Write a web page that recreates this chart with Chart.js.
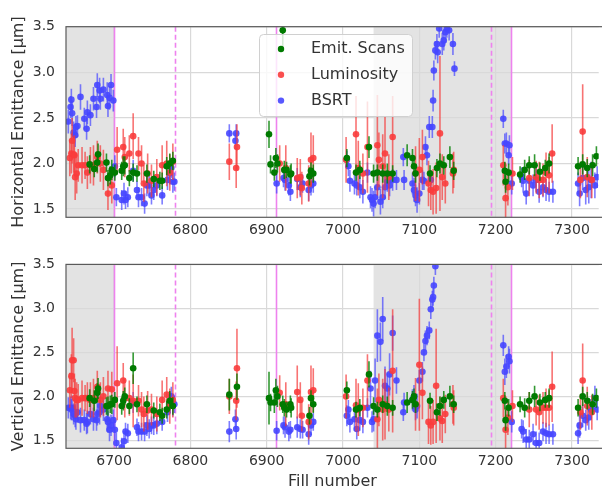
<!DOCTYPE html>
<html>
<head>
<meta charset="utf-8">
<script src="https://cdn.jsdelivr.net/npm/chart.js@4.4.1/dist/chart.umd.min.js"></script>
<style>
  html, body { margin: 0; padding: 0; background: #fff; }
  #wrap { position: relative; width: 602px; height: 491px; overflow: hidden; }
  canvas { position: absolute; left: 0; }
  #hChart { top: 0; }
  #vChart { top: 245px; }
</style>
</head>
<body>
<div id="wrap">
  <canvas id="hChart" width="602" height="245"></canvas>
  <canvas id="vChart" width="602" height="246"></canvas>
</div>
<script>
// axes
const xTicks = [6700, 6800, 6900, 7000, 7100, 7200, 7300];
const yTicks = [1.5, 2.0, 2.5, 3.0, 3.5];

// machine periods (grey) and setting changes (violet)
const shadedRuns = [[6600, 6700], [7040, 7220]];
const solidMarks = [6700, 6912, 7220];
const dashedMarks = [6780, 7194];

// BSRT
const bsrtFills = [6640, 6643, 6644, 6645, 6647, 6649, 6650, 6652, 6656, 6661, 6664, 6665, 6669, 6673, 6677, 6678, 6681, 6682, 6686, 6691, 6692, 6694, 6696, 6699,
  6701, 6703, 6710, 6713, 6715, 6718, 6725, 6730, 6732, 6736, 6740, 6743, 6746, 6749, 6752, 6756, 6763, 6770, 6773, 6775, 6777, 6779,
  6851, 6859, 6860,
  6913, 6922, 6924, 6929, 6931, 6940, 6944, 6947, 6955, 6958, 6961,
  7005, 7007, 7009, 7015, 7018, 7022, 7026, 7032, 7036, 7038, 7040, 7042, 7045, 7049, 7052, 7055, 7058, 7061, 7065, 7070,
  7079, 7080, 7091, 7093, 7095, 7097, 7100, 7104, 7106, 7108, 7110, 7113, 7115, 7117, 7118, 7119, 7121, 7123, 7124, 7126,
  7130, 7132, 7134, 7136, 7139, 7144, 7146,
  7210, 7212, 7214, 7217, 7218, 7221, 7234, 7236, 7240, 7244, 7249, 7253, 7257, 7262, 7266, 7270, 7275,
  7308, 7310, 7314, 7318, 7322, 7325, 7330, 7333];
const bsrtH = [2.46, 2.62, 2.70, 2.55, 2.34, 2.31, 2.40, 2.41, 2.73, 2.49, 2.38, 2.56, 2.53, 2.71, 2.62, 2.86, 2.80, 2.71, 2.81, 2.75, 2.63, 2.72, 2.86, 2.69,
  1.97, 1.63, 1.60, 1.67, 1.60, 1.63, 1.92, 1.71, 1.63, 1.63, 1.56, 1.76, 1.76, 1.65, 1.71, 1.76, 1.65, 1.82, 1.89, 1.95, 1.80, 1.80,
  2.33, 2.25, 2.33,
  1.78, 1.84, 1.82, 1.76, 1.69, 1.83, 1.74, 1.78, 1.71, 1.76, 1.78,
  2.04, 1.97, 1.81, 1.78, 1.76, 1.74, 1.69, 1.90, 1.63, 1.60, 1.56, 1.63, 1.74, 1.58, 1.63, 1.74, 1.80, 1.76, 1.82, 1.82,
  2.07, 1.82, 1.78, 1.71, 1.65, 1.60, 1.67, 1.82, 1.81, 2.18, 2.09, 2.40, 1.82, 2.40, 2.69, 3.02, 3.24, 3.31, 3.22, 3.48,
  3.31, 3.35, 3.44, 3.48, 3.46, 3.31, 3.04,
  2.49, 2.22, 2.22, 2.09, 2.20, 1.78, 1.85, 1.81, 1.67, 1.81, 1.76, 1.82, 1.69, 1.74, 1.71, 1.69, 1.69,
  1.78, 1.67, 1.84, 1.71, 1.74, 1.82, 1.76, 1.85];
const bsrtErrH = [0.13, 0.12, 0.12, 0.14, 0.12, 0.13, 0.12, 0.12, 0.14, 0.12, 0.12, 0.13, 0.12, 0.13, 0.12, 0.13, 0.14, 0.12, 0.13, 0.14, 0.12, 0.13, 0.12, 0.12,
  0.12, 0.10, 0.11, 0.12, 0.10, 0.11, 0.12, 0.10, 0.11, 0.10, 0.11, 0.12, 0.11, 0.10, 0.11, 0.12, 0.10, 0.11, 0.12, 0.11, 0.12, 0.10,
  0.10, 0.09, 0.10,
  0.11, 0.10, 0.12, 0.11, 0.10, 0.12, 0.11, 0.10, 0.12, 0.11, 0.10,
  0.10, 0.11, 0.12, 0.12, 0.11, 0.12, 0.13, 0.11, 0.12, 0.13, 0.14, 0.12, 0.13, 0.14, 0.12, 0.13, 0.11, 0.12, 0.12, 0.11,
  0.10, 0.11, 0.12, 0.13, 0.12, 0.14, 0.12, 0.11, 0.10, 0.12, 0.11, 0.12, 0.11, 0.12, 0.12, 0.11, 0.10, 0.11, 0.12, 0.10,
  0.12, 0.11, 0.12, 0.10, 0.11, 0.12, 0.08,
  0.10, 0.11, 0.12, 0.10, 0.11, 0.12, 0.11, 0.13, 0.12, 0.11, 0.12, 0.13, 0.12, 0.11, 0.12, 0.11, 0.12,
  0.12, 0.14, 0.13, 0.16, 0.18, 0.20, 0.14, 0.12];
const bsrtV = [1.87, 1.87, 1.85, 1.87, 1.80, 1.78, 1.74, 1.82, 1.73, 1.73, 1.69, 1.71, 1.80, 1.74, 1.73, 1.80, 1.82, 1.89, 1.85, 1.74, 1.71, 1.62, 1.67, 1.73,
  1.62, 1.47, 1.42, 1.49, 1.60, 1.58, 1.93, 1.65, 1.60, 1.60, 1.60, 1.67, 1.63, 1.67, 1.67, 1.69, 1.71, 1.82, 1.93, 2.00, 1.89, 1.91,
  1.60, 1.74, 1.63,
  1.61, 1.67, 1.65, 1.60, 1.62, 1.65, 1.63, 1.62, 1.57, 1.67, 1.71,
  1.78, 1.85, 1.71, 1.74, 1.63, 1.73, 1.71, 1.87, 2.09, 1.71, 1.74, 2.18, 2.69, 2.62, 2.88, 2.12, 2.09, 2.25, 2.72, 2.18,
  1.82, 1.93, 1.96, 2.00, 1.85, 1.89, 2.18, 2.28, 2.50, 2.63, 2.69, 2.75, 2.99, 3.10, 3.13, 3.26, 3.48, 3.62, 3.70, 3.80,
  3.90, 4.00, 4.10, 4.20, 4.30, 4.40, 4.20,
  2.58, 2.28, 2.34, 2.45, 2.40, 1.71, 1.63, 1.60, 1.51, 1.51, 1.57, 1.47, 1.47, 1.60, 1.58, 1.57, 1.57,
  1.58, 1.67, 1.78, 1.73, 1.76, 1.85, 1.98, 1.85];
const bsrtErrV = [0.12, 0.13, 0.12, 0.14, 0.12, 0.13, 0.12, 0.12, 0.14, 0.12, 0.12, 0.13, 0.12, 0.13, 0.12, 0.13, 0.14, 0.12, 0.13, 0.14, 0.12, 0.13, 0.12, 0.12,
  0.12, 0.12, 0.11, 0.12, 0.10, 0.11, 0.12, 0.10, 0.11, 0.10, 0.11, 0.12, 0.11, 0.10, 0.11, 0.12, 0.10, 0.11, 0.12, 0.11, 0.12, 0.10,
  0.12, 0.11, 0.12,
  0.11, 0.10, 0.12, 0.11, 0.10, 0.12, 0.11, 0.10, 0.12, 0.11, 0.10,
  0.12, 0.11, 0.12, 0.13, 0.12, 0.12, 0.13, 0.11, 0.20, 0.12, 0.14, 0.25, 0.30, 0.22, 0.25, 0.22, 0.18, 0.24, 0.20, 0.15,
  0.10, 0.11, 0.12, 0.13, 0.12, 0.14, 0.12, 0.11, 0.10, 0.12, 0.11, 0.10, 0.11, 0.10, 0.10, 0.10, 0.10, 0.10, 0.10, 0.10,
  0.10, 0.10, 0.10, 0.10, 0.10, 0.10, 0.10,
  0.12, 0.15, 0.13, 0.12, 0.14, 0.12, 0.11, 0.13, 0.12, 0.11, 0.12, 0.13, 0.12, 0.11, 0.12, 0.11, 0.12,
  0.12, 0.14, 0.13, 0.12, 0.14, 0.12, 0.14, 0.12];

// emittance scans
const scanFills = [6668, 6674, 6678, 6679, 6690, 6692, 6695, 6697, 6701, 6710, 6712, 6714, 6720, 6725, 6730, 6743, 6752, 6760, 6763, 6769, 6773, 6777,
  6851, 6861,
  6903, 6905, 6910, 6912, 6914, 6921, 6923, 6926, 6931, 6932, 6956, 6958, 6961,
  7005, 7017, 7022, 7034, 7040, 7045, 7052, 7058, 7065, 7084, 7091, 7093, 7095, 7114, 7123, 7127, 7132, 7140, 7145,
  7212, 7213, 7217, 7232, 7238, 7244, 7251, 7258, 7265, 7270,
  7308, 7314, 7320, 7327, 7332];
const scanH = [1.99, 1.94, 2.01, 2.10, 2.01, 1.84, 1.87, 1.93, 1.90, 1.92, 1.97, 1.98, 1.84, 1.90, 1.89, 1.89, 1.83, 1.81, 1.81, 1.97, 2.00, 2.03,
  null, null,
  2.32, 1.99, 1.90, 2.06, 2.00, 3.46, 1.93, 1.93, 1.88, 1.89, 1.86, 1.92, 1.89,
  2.06, 1.90, 1.93, 2.18, 1.89, 1.90, 1.89, 1.89, 1.89, 2.09, 2.06, 1.97, 1.89, 1.89, 1.95, 2.00, 1.98, 2.07, 1.92,
  1.92, 1.80, 1.90, 1.88, 1.93, 1.98, 1.98, 1.91, 1.95, 2.00,
  1.97, 1.99, 1.95, 1.98, 2.08];
const scanErrH = [0.10, 0.09, 0.11, 0.12, 0.10, 0.09, 0.10, 0.11, 0.09, 0.10, 0.11, 0.10, 0.09, 0.10, 0.09, 0.10, 0.09, 0.10, 0.09, 0.10, 0.11, 0.10,
  0.10, 0.10,
  0.15, 0.10, 0.09, 0.11, 0.10, 0.18, 0.10, 0.09, 0.10, 0.11, 0.10, 0.09, 0.10,
  0.10, 0.09, 0.10, 0.12, 0.10, 0.09, 0.10, 0.11, 0.09, 0.12, 0.10, 0.09, 0.10, 0.09, 0.10, 0.11, 0.10, 0.12, 0.10,
  0.10, 0.12, 0.10, 0.09, 0.11, 0.10, 0.12, 0.10, 0.09, 0.11,
  0.10, 0.11, 0.10, 0.12, 0.11];
const scanV = [1.98, 1.95, 2.04, 2.09, 1.89, 1.89, 1.91, 1.91, 1.96, 1.89, 1.95, 2.00, 1.89, 2.32, 1.91, 1.91, 1.84, 1.82, 1.78, 1.85, 1.95, 1.89,
  2.02, 2.11,
  1.98, 1.93, 1.93, 2.07, 2.00, 1.91, 1.87, 1.85, 1.91, 1.87, 1.78, 1.98, 1.91,
  2.07, 1.85, 1.87, 2.25, 1.89, 1.85, 1.91, 1.89, 1.87, 1.93, 1.96, 2.00, 1.91, 1.95, 1.82, 1.89, 1.96, 2.00, 1.91,
  1.95, 1.73, 1.87, 1.91, 1.87, 1.95, 2.00, 1.93, 1.96, 1.98,
  1.87, 2.00, 1.95, 1.91, 1.98];
const scanErrV = [0.10, 0.12, 0.11, 0.12, 0.10, 0.11, 0.10, 0.11, 0.09, 0.10, 0.11, 0.10, 0.09, 0.18, 0.09, 0.10, 0.09, 0.10, 0.09, 0.10, 0.11, 0.10,
  0.18, 0.15,
  0.30, 0.10, 0.12, 0.13, 0.12, 0.10, 0.10, 0.09, 0.10, 0.11, 0.10, 0.09, 0.10,
  0.10, 0.09, 0.10, 0.15, 0.10, 0.09, 0.10, 0.11, 0.09, 0.12, 0.10, 0.09, 0.10, 0.09, 0.10, 0.11, 0.10, 0.12, 0.10,
  0.10, 0.12, 0.10, 0.09, 0.11, 0.10, 0.12, 0.10, 0.09, 0.11,
  0.10, 0.11, 0.10, 0.12, 0.11];

// luminosity
const lumiFills = [6642, 6644, 6645, 6647, 6648, 6649, 6651, 6653, 6658, 6662, 6665, 6669, 6673, 6678, 6682, 6686, 6692, 6697,
  6704, 6712, 6714, 6720, 6725, 6732, 6736, 6739, 6744, 6749, 6756, 6763, 6769, 6773, 6777,
  6851, 6860, 6861,
  6917, 6925, 6940, 6944, 6946, 6955, 6958, 6961,
  7004, 7017, 7020, 7026, 7032, 7045, 7047, 7052, 7055, 7060, 7065, 7095, 7100, 7104, 7112, 7115, 7118, 7122, 7127, 7130, 7134, 7144, 7145,
  7210, 7213, 7216, 7222, 7244, 7253, 7257, 7262, 7266, 7270, 7274,
  7311, 7314, 7320, 7326];
const lumiH = [2.06, 2.11, 2.25, 2.10, 2.09, 1.85, 1.89, 1.98, 1.98, 1.98, 1.90, 1.98, 1.98, 2.07, 2.00, 1.93, 1.67, 1.76,
  2.15, 2.18, 2.07, 2.11, 2.30, 2.11, 2.00, 1.78, 1.89, 1.81, 1.85, 1.98, 2.00, 1.90, 2.02,
  2.02, 1.95, 2.18,
  2.00, 1.95, 1.84, 1.85, 1.73, 1.78, 2.04, 2.06,
  2.04, 2.32, 1.95, 1.89, 2.18, 2.20, 2.04, 1.97, 2.11, 1.85, 2.29, 1.89, 1.93, 2.07, 1.78, 1.71, 1.69, 1.73, 2.33, 1.85, 1.78, 1.89, 1.93,
  1.98, 1.62, 1.74, 1.89, 1.84, 1.85, 1.82, 1.82, 1.90, 1.87, 2.11,
  1.82, 2.35, 1.85, 1.82];
const lumiErrH = [0.20, 0.22, 0.25, 0.20, 0.22, 0.25, 0.22, 0.18, 0.20, 0.15, 0.18, 0.20, 0.22, 0.18, 0.20, 0.22, 0.18, 0.20,
  0.25, 0.20, 0.22, 0.20, 0.25, 0.18, 0.20, 0.20, 0.22, 0.18, 0.20, 0.22, 0.25, 0.20, 0.20,
  0.20, 0.22, 0.25,
  0.20, 0.25, 0.22, 0.20, 0.18, 0.20, 0.30, 0.25,
  0.25, 0.42, 0.30, 0.22, 0.50, 0.55, 0.30, 0.35, 0.40, 0.25, 0.45, 0.30, 0.35, 0.30, 0.25, 0.22, 0.25, 0.28, 0.85, 0.25, 0.22, 0.22, 0.20,
  0.22, 0.25, 0.20, 0.18, 0.20, 0.18, 0.20, 0.18, 0.22, 0.20, 0.32,
  0.20, 0.52, 0.22, 0.20];
const lumiV = [2.07, 2.23, 2.41, 2.41, 2.06, 1.98, 1.96, 1.96, 1.98, 1.98, 1.98, 1.96, 1.98, 2.11, 1.96, 2.00, 2.09, 2.08,
  2.15, 2.18, 1.98, 1.98, 1.95, 1.95, 1.85, 1.80, 1.84, 1.85, 1.80, 1.96, 2.02, 1.89, 1.96,
  2.00, 1.95, 2.32,
  2.04, 1.91, 2.05, 1.96, 1.78, 1.71, 2.05, 2.07,
  2.00, 1.90, 1.85, 1.87, 2.18, 1.74, 1.96, 1.85, 1.91, 1.85, 2.29, 1.91, 2.36, 2.04, 1.71, 1.67, 1.71, 2.12, 1.75, 1.72, 1.80, 1.91, 1.87,
  1.98, 1.62, 1.76, 1.89, 1.85, 1.85, 1.82, 1.87, 1.87, 1.87, 2.11,
  1.82, 2.18, 1.89, 1.82];
const lumiErrV = [0.20, 0.25, 0.37, 0.25, 0.20, 0.22, 0.20, 0.18, 0.20, 0.15, 0.18, 0.20, 0.22, 0.18, 0.20, 0.22, 0.20, 0.20,
  0.42, 0.20, 0.22, 0.20, 0.30, 0.18, 0.20, 0.20, 0.22, 0.18, 0.20, 0.22, 0.20, 0.20, 0.20,
  0.20, 0.22, 0.45,
  0.20, 0.25, 0.30, 0.20, 0.18, 0.20, 0.30, 0.25,
  0.25, 0.30, 0.30, 0.22, 0.30, 0.35, 0.30, 0.35, 0.40, 0.25, 0.70, 0.30, 0.75, 0.30, 0.25, 0.22, 0.25, 0.65, 0.25, 0.25, 0.22, 0.22, 0.20,
  0.22, 0.25, 0.20, 0.18, 0.20, 0.18, 0.20, 0.18, 0.22, 0.20, 0.40,
  0.20, 0.42, 0.22, 0.20];

const FONT = "'DejaVu Sans', sans-serif";
const TEXT = '#333333';
const GRID = '#d9d9d9';

const series = [
  { label: 'Emit. Scans', dot: 'rgb(0,122,0)', bar: 'rgba(0,128,0,0.8)' },
  { label: 'Luminosity', dot: 'rgba(250,60,60,0.9)', bar: 'rgba(245,55,55,0.7)' },
  { label: 'BSRT', dot: 'rgba(70,70,255,0.9)', bar: 'rgba(70,70,255,0.7)' }
];

function points(fills, vals, errs) {
  const out = [];
  fills.forEach((f, i) => {
    if (vals[i] !== null) out.push({ x: f, y: vals[i], err: errs[i] });
  });
  return out;
}

function clipToArea(ctx, a) {
  ctx.beginPath();
  ctx.rect(a.left, a.top, a.right - a.left, a.bottom - a.top);
  ctx.clip();
}

// grey bands behind everything
const bands = {
  id: 'bands',
  beforeDraw(chart) {
    const { ctx, chartArea: a, scales: { x } } = chart;
    ctx.save();
    clipToArea(ctx, a);
    ctx.fillStyle = '#e3e3e3';
    shadedRuns.forEach(([s, e]) => {
      const x0 = x.getPixelForValue(s), x1 = x.getPixelForValue(e);
      ctx.fillRect(x0, a.top, x1 - x0, a.bottom - a.top);
    });
    ctx.restore();
  }
};

// violet vertical markers
const markers = {
  id: 'markers',
  beforeDatasetsDraw(chart) {
    const { ctx, chartArea: a, scales: { x } } = chart;
    ctx.save();
    ctx.strokeStyle = 'violet';
    ctx.lineWidth = 1.6;
    const line = (v, dash) => {
      const px = Math.round(x.getPixelForValue(v)) + 0.5;
      ctx.setLineDash(dash);
      ctx.beginPath();
      ctx.moveTo(px, a.top);
      ctx.lineTo(px, a.bottom);
      ctx.stroke();
    };
    solidMarks.forEach(v => line(v, []));
    dashedMarks.forEach(v => line(v, [5, 3]));
    ctx.restore();
  }
};

// vertical error bars under each dataset's markers
const errorBars = {
  id: 'errorBars',
  beforeDatasetDraw(chart, args) {
    const ds = chart.data.datasets[args.index];
    const { ctx, chartArea: a, scales: { y } } = chart;
    ctx.save();
    clipToArea(ctx, a);
    ctx.strokeStyle = ds.barColor;
    ctx.lineWidth = 1.6;
    ds.data.forEach((p, i) => {
      const el = args.meta.data[i];
      ctx.beginPath();
      ctx.moveTo(el.x, y.getPixelForValue(p.y - p.err));
      ctx.lineTo(el.x, y.getPixelForValue(p.y + p.err));
      ctx.stroke();
    });
    ctx.restore();
  }
};

const frame = {
  id: 'frame',
  afterDraw(chart) {
    const { ctx, chartArea: a } = chart;
    ctx.save();
    ctx.strokeStyle = '#5a5a5a';
    ctx.lineWidth = 1.2;
    ctx.strokeRect(a.left, a.top, a.right - a.left + 10, a.bottom - a.top);
    ctx.restore();
  }
};

const legendBox = {
  id: 'legendBox',
  afterDatasetsDraw(chart) {
    const ctx = chart.ctx;
    ctx.save();
    ctx.beginPath();
    ctx.roundRect(259.5, 34.5, 153, 82, 4);
    ctx.fillStyle = 'rgba(255,255,255,0.8)';
    ctx.fill();
    ctx.strokeStyle = '#d0d0d0';
    ctx.lineWidth = 1;
    ctx.stroke();
    ctx.font = '16px ' + FONT;
    ctx.textBaseline = 'middle';
    series.forEach((s, k) => {
      const cy = 49 + k * 25.8;
      ctx.fillStyle = s.dot;
      ctx.beginPath();
      ctx.arc(281, cy, 3.2, 0, Math.PI * 2);
      ctx.fill();
      ctx.fillStyle = TEXT;
      ctx.fillText(s.label, 311, cy);
    });
    ctx.restore();
  }
};

function makeChart(id, yTitle, sets, o) {
  return new Chart(document.getElementById(id), {
    type: 'scatter',
    data: {
      datasets: series.map((s, k) => ({
        label: s.label,
        data: sets[k],
        backgroundColor: s.dot,
        borderWidth: 0,
        pointRadius: 3.3,
        pointHoverRadius: 3.3,
        barColor: s.bar,
        clip: 0
      }))
    },
    options: {
      responsive: false,
      devicePixelRatio: 1,
      animation: false,
      events: [],
      layout: { padding: { top: o.padTop, left: 0, right: 0, bottom: 0 } },
      plugins: { legend: { display: false }, tooltip: { enabled: false } },
      scales: {
        x: {
          type: 'linear',
          min: 6637,
          max: 7335,
          afterBuildTicks: s => { s.ticks = xTicks.map(v => ({ value: v })); },
          afterFit: s => { s.height = o.xHeight; },
          ticks: {
            autoSkip: false,
            maxRotation: 0,
            padding: 5,
            color: TEXT,
            font: { family: FONT, size: 14 },
            callback: v => String(v)
          },
          grid: { color: GRID, lineWidth: 1.2, drawTicks: false },
          border: { display: false },
          title: o.xTitle
            ? { display: true, text: o.xTitle, color: TEXT, font: { family: FONT, size: 16 }, padding: { top: 0, bottom: 0 } }
            : { display: false }
        },
        y: {
          min: 1.41,
          max: 3.5,
          afterBuildTicks: s => { s.ticks = yTicks.map(v => ({ value: v })); },
          afterFit: s => { s.width = 66; },
          ticks: {
            padding: 11,
            color: TEXT,
            font: { family: FONT, size: 14 },
            callback: v => v.toFixed(1)
          },
          grid: { color: GRID, lineWidth: 1.2, drawTicks: false },
          border: { display: false },
          title: { display: true, text: yTitle, color: TEXT, font: { family: FONT, size: 16 }, padding: { top: 9, bottom: 0 } }
        }
      }
    },
    plugins: [bands, markers, errorBars, frame].concat(o.legend ? [legendBox] : [])
  });
}

makeChart('hChart', 'Horizontal Emittance [μm]', [
  points(scanFills, scanH, scanErrH),
  points(lumiFills, lumiH, lumiErrH),
  points(bsrtFills, bsrtH, bsrtErrH)
], { padTop: 26.7, xHeight: 27.7, legend: true });

makeChart('vChart', 'Vertical Emittance [μm]', [
  points(scanFills, scanV, scanErrV),
  points(lumiFills, lumiV, lumiErrV),
  points(bsrtFills, bsrtV, bsrtErrV)
], { padTop: 11.7, xHeight: 42.7, xTitle: 'Fill number' });
</script>
</body>
</html>
